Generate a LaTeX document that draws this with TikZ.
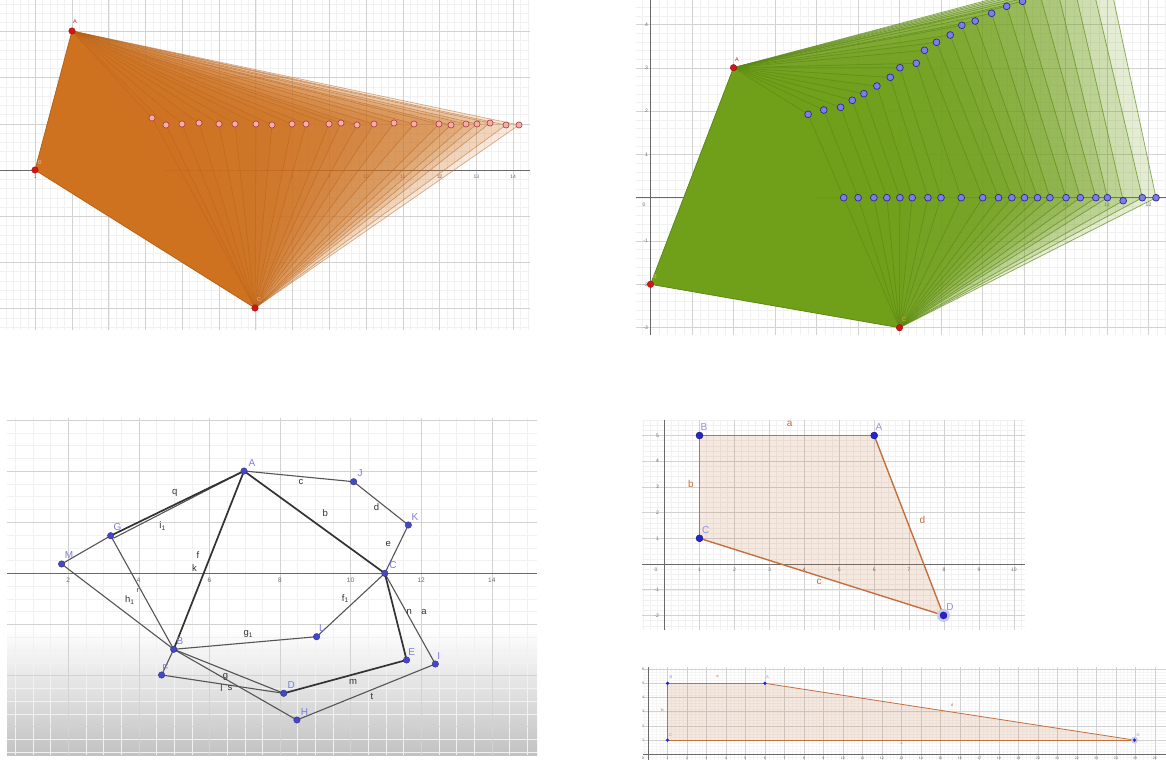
\documentclass[tikz,border=0pt]{standalone}
\usepackage{fontspec}
\setmainfont{Liberation Sans}
\definecolor{ggorange}{RGB}{206,114,32}
\definecolor{ggoline}{RGB}{185,98,22}
\definecolor{ggpinkf}{RGB}{242,175,170}
\definecolor{ggpinkd}{RGB}{170,55,55}
\definecolor{ggred}{RGB}{215,20,20}
\definecolor{gggreen}{RGB}{112,160,26}
\definecolor{gggline}{RGB}{92,138,18}
\definecolor{ggbluef}{RGB}{125,125,235}
\definecolor{ggblued}{RGB}{45,45,140}
\definecolor{ggpt}{RGB}{70,70,200}
\definecolor{gglab}{RGB}{125,125,225}
\definecolor{ggbrown}{RGB}{196,112,62}
\definecolor{ggdark}{RGB}{50,50,50}
\definecolor{ggseg}{RGB}{85,85,85}
\definecolor{gridmaj}{RGB}{210,210,210}
\definecolor{gridmin}{RGB}{241,241,241}
\definecolor{gridmin5}{RGB}{246,246,246}
\definecolor{axisgray}{RGB}{105,105,105}
\definecolor{ggblue4}{RGB}{35,35,210}
\begin{document}
\begin{tikzpicture}[x=1pt,y=-1pt,
  mingrid/.style={draw=gridmin, line width=0.35},
  majgrid/.style={draw=gridmaj, line width=0.6},
  axisline/.style={draw=axisgray, line width=0.8},
  tl/.style={text=axisgray, inner sep=0, font=\fontsize{5}{5}\selectfont},
  tls/.style={text=axisgray, inner sep=0, font=\fontsize{3.6}{3.6}\selectfont},
  tlm/.style={text=axisgray, inner sep=0, font=\fontsize{6.5}{6.5}\selectfont},
  pinkpt/.style={circle, fill=ggpinkf, draw=ggpinkd, line width=0.6, inner sep=0, minimum size=6.2},
  redpt/.style={circle, fill=ggred, draw=ggred!70!black, line width=0.4, inner sep=0, minimum size=6.5},
  bluept/.style={circle, fill=ggbluef, draw=ggblued, line width=0.7, inner sep=0, minimum size=6.8},
  pt3/.style={circle, fill=ggpt, draw=ggpt!70!black, line width=0.4, inner sep=0, minimum size=6.5},
  pt4/.style={circle, fill=ggblue4, draw=ggblue4!60!black, line width=0.4, inner sep=0, minimum size=7},
  pt5/.style={circle, fill=ggblue4, inner sep=0, minimum size=3.6},
  lab3/.style={text=gglab, inner sep=0, font=\fontsize{10}{10}\selectfont},
  elab3/.style={text=ggdark, inner sep=0, font=\fontsize{9.5}{9.5}\selectfont},
  lab4/.style={text=gglab!85, inner sep=0, font=\fontsize{10}{10}\selectfont},
  elab4/.style={text=ggbrown, inner sep=0, font=\fontsize{10}{10}\selectfont},
  lab5/.style={text=gglab!85, inner sep=0, font=\fontsize{4}{4}\selectfont},
  elab5/.style={text=ggbrown, inner sep=0, font=\fontsize{4}{4}\selectfont},
  seg/.style={draw=ggseg, line width=1.1},
  thickseg/.style={draw=ggdark, line width=1.7}
]
\useasboundingbox (0,0) rectangle (1166,760);
\fill[white] (0,0) rectangle (1166,760);

%% ================= PANEL 1 (orange) =================
\foreach \i in {-4,...,67} \draw[mingrid] ({35.2+7.352*\i},0) -- ({35.2+7.352*\i},330);
\foreach \j in {-18,...,17} \draw[mingrid] (0,{170+9.24*\j}) -- (530,{170+9.24*\j});
\foreach \i in {0,...,13} \draw[majgrid] ({35.2+36.76*\i},0) -- ({35.2+36.76*\i},330);
\foreach \j in {-3,...,3} \draw[majgrid] (0,{170+46.2*\j}) -- (530,{170+46.2*\j});
\draw[axisline] (0,170) -- (530,170);
\foreach \k in {1,...,14} \node[tl] (ox\k) at ({35.2+36.76*(\k-1)},177) {\k};

\coordinate (oA) at (72,31);
\coordinate (oB) at (35,170);
\coordinate (oC) at (255,308);
\fill[ggorange] (oA) -- (oB) -- (oC) -- cycle;
\foreach \px/\py [count=\n] in {152/118,166/125,182/124,199/123,219/124,235/124,256/124,272/125,292/124,306/124,329/124,341/123,357/125,374/124,394/123,414/124,439/124,451/125,466/124,477/124,490/123,506/125,519/125}{
  \coordinate (oP\n) at (\px,\py);
  \fill[ggorange, fill opacity=0.16] (oA) -- (oP\n) -- (oC) -- cycle;
}
\foreach \n in {1,...,23} \draw[ggoline, opacity=0.5, line width=0.7] (oA) -- (oP\n) -- (oC);
\draw[ggoline, line width=0.8] (oA) -- (oB) -- (oC);
\foreach \n in {1,...,23} \node[pinkpt] (dP\n) at (oP\n) {};
\node[redpt] (doA) at (oA) {};
\node[redpt] (doB) at (oB) {};
\node[redpt] (doC) at (oC) {};
\node[text=ggred, inner sep=0, font=\fontsize{5.5}{5.5}\selectfont] (loA) at (75,22) {A};
\node[text=ggpinkf, inner sep=0, font=\fontsize{5.5}{5.5}\selectfont] (loB) at (40,163) {B};
\node[text=ggpinkf, inner sep=0, font=\fontsize{5.5}{5.5}\selectfont] (loC) at (259,300) {C};

%% ================= PANEL 2 (green) =================
\foreach \i in {-1,...,62} \draw[mingrid] ({650.5+8.3*\i},0) -- ({650.5+8.3*\i},335);
\foreach \j in {-22,...,15} \draw[mingrid] (636,{197.7+8.66*\j}) -- (1166,{197.7+8.66*\j});
\foreach \i in {0,...,12} \draw[majgrid] ({650.5+41.5*\i},0) -- ({650.5+41.5*\i},335);
\foreach \j in {-4,...,3} \draw[majgrid] (636,{197.7+43.3*\j}) -- (1166,{197.7+43.3*\j});
\draw[axisline] (636,197.7) -- (1166,197.7);
\draw[axisline] (650.5,0) -- (650.5,335);
\node[tl] (gx0) at (644,205) {0};
\foreach \k in {1,...,12} \node[tl] (gx\k) at ({650.5+41.5*\k},205) {\k};
\foreach \k/\lb in {4/4,3/3,2/2,1/1,-1/-1,-2/-2,-3/-3} \node[tl, anchor=east] (gy\k) at (648,{197.7-43.3*\k}) {\lb};

\coordinate (gA) at (733.5,67.7);
\coordinate (gB) at (650.5,284.3);
\coordinate (gC) at (899.5,327.7);
\foreach \ux/\uy/\lx/\ly [count=\n] in {808.1/114.3/843.7/197.7,823.8/110/858.1/197.7,840.6/107.3/873.8/197.7,852.3/100.3/886.8/197.7,863.9/93.7/899.9/197.7,876.9/86/912.2/197.7,890.3/77.3/927.9/197.7,899.9/67.7/941/197.7,916.3/63.3/961.2/197.7,924.5/50.3/982.7/197.7,936.5/42.3/998.5/197.7,950.2/35/1011.8/197.7,961.8/25.3/1024.5/197.7,975.2/21/1037.5/197.7,991.6/13.3/1049.9/197.7,1006.7/6.3/1066/197.7,1022.5/1.3/1080.3/197.7,1040/-5.5/1095.8/197.7,1057/-12/1107.4/197.7,1073/-18.5/1123.2/200.7,1090/-25/1142.3/197.7,1107/-31.5/1156/197.7}{
  \coordinate (gU\n) at (\ux,\uy);
  \coordinate (gL\n) at (\lx,\ly);
}
\begin{scope}
\clip (636,0) rectangle (1166,335);
\fill[gggreen] (gA) -- (gB) -- (gC) -- cycle;
\foreach \n in {1,...,22} \fill[gggreen, fill opacity=0.19] (gA) -- (gU\n) -- (gL\n) -- (gC) -- cycle;
\foreach \n in {1,...,22} \draw[gggline, opacity=0.65, line width=0.8] (gA) -- (gU\n) -- (gL\n) -- (gC);
\draw[gggline, line width=0.8] (gA) -- (gB) -- (gC);
\end{scope}
\foreach \n in {1,...,17} \node[bluept] (dU\n) at (gU\n) {};
\foreach \n in {1,...,22} \node[bluept] (dL\n) at (gL\n) {};
\node[redpt] (dgA) at (gA) {};
\node[redpt] (dgB) at (gB) {};
\node[redpt] (dgC) at (gC) {};
\node[text=ggred, inner sep=0, font=\fontsize{5.5}{5.5}\selectfont] (lgA) at (737,60) {A};
\node[text=orange!70, inner sep=0, font=\fontsize{5.5}{5.5}\selectfont] (lgB) at (655,277) {B};
\node[text=orange!70, inner sep=0, font=\fontsize{5.5}{5.5}\selectfont] (lgC) at (904,320) {C};

%% ================= PANEL 3 (segments) =================
\shade[top color=white, bottom color=black!24] (7,628) rectangle (537,755);
\foreach \i in {-3,...,26} \draw[mingrid] ({68.2+17.65*\i},418) -- ({68.2+17.65*\i},755);
\foreach \j in {-12,...,14} \draw[mingrid] (7,{573.3+12.78*\j}) -- (537,{573.3+12.78*\j});
\foreach \i in {1,...,7} \draw[majgrid] ({-2.4+70.6*\i},418) -- ({-2.4+70.6*\i},755);
\foreach \j in {-3,...,3} \draw[majgrid] (7,{573.3+51.1*\j}) -- (537,{573.3+51.1*\j});
\draw[axisline] (7,573.3) -- (537,573.3);
\foreach \k in {1,...,7} \node[tlm] (cx\k) at ({-2.4+70.6*\k},580) {\the\numexpr 2*\k\relax};

\foreach \nm/\x/\y in {A/244/471,J/353.6/481.7,K/408.3/525,C/384.8/573.3,M/61.6/564,G/110.7/535.7,B/173.7/649.3,F/161.6/675,D/283.7/693.3,H/296.9/720,E/406.6/660,I/435.3/664,L/316.6/636.7}
  \coordinate (\nm3) at (\x,\y);
\coordinate (G3b) at (113.5,538.2);

\draw[seg] (A3) -- (J3) -- (K3) -- (C3);
\draw[seg] (M3) -- (G3) -- (B3);
\draw[seg] (M3) -- (B3);
\draw[seg] (A3) -- (G3b);
\draw[seg] (B3) -- (F3) -- (D3);
\draw[seg] (B3) -- (D3);
\draw[seg] (B3) -- (H3) -- (I3) -- (C3);
\draw[seg] (B3) -- (L3) -- (C3);
\draw[thickseg] (A3) -- (G3);
\draw[thickseg] (A3) -- (B3);
\draw[thickseg] (A3) -- (C3);
\draw[thickseg] (D3) -- (E3) -- (C3);

\foreach \nm in {A,J,K,C,M,G,B,F,D,H,E,I,L} \node[pt3] (d\nm3) at (\nm3) {};

\node[lab3] (lA3) at (252,463) {A};
\node[lab3] (lJ3) at (360,473) {J};
\node[lab3] (lK3) at (415,517) {K};
\node[lab3] (lC3) at (393,565) {C};
\node[lab3] (lM3) at (69,555) {M};
\node[lab3] (lG3) at (117.6,527) {G};
\node[lab3] (lB3) at (180,641) {B};
\node[lab3] (lF3) at (165.4,667.7) {F};
\node[lab3] (lD3) at (291.3,685) {D};
\node[lab3] (lH3) at (304.5,711.7) {H};
\node[lab3] (lE3) at (411.8,651.7) {E};
\node[lab3] (lI3) at (438.8,656) {I};
\node[lab3] (lL3) at (321.8,628.3) {L};

\node[elab3] (ec) at (301,482) {c};
\node[elab3] (ed) at (376.5,506.7) {d};
\node[elab3] (ee) at (388.2,544.3) {e};
\node[elab3] (eb) at (325.3,513.3) {b};
\node[elab3] (eq) at (174.7,493.3) {q};
\node[elab3] (ei) at (162.6,526) {i\textsubscript{1}};
\node[elab3] (ef) at (197.9,555) {f};
\node[elab3] (ek) at (194.5,568.3) {k};
\node[elab3] (eh) at (129.8,600) {h\textsubscript{1}};
\node[elab3] (er) at (137.7,590.5) {\fontsize{7}{7}\selectfont r};
\node[elab3] (eg1) at (248.4,634) {g\textsubscript{1}};
\node[elab3] (ef1) at (345.3,598.3) {f\textsubscript{1}};
\node[elab3] (eg) at (225.6,676.7) {g};
\node[elab3] (el) at (221.5,688.3) {l};
\node[elab3] (es) at (230.1,688.3) {s};
\node[elab3] (em) at (353,681.7) {m};
\node[elab3] (en) at (409.3,611.7) {n};
\node[elab3] (ea) at (423.9,612.3) {a};
\node[elab3] (et) at (372,696.7) {t};

%% ================= PANEL 4 (quadrilateral) =================
\foreach \i in {-3,...,51} \draw[mingrid] ({664.6+6.986*\i},420) -- ({664.6+6.986*\i},630);
\foreach \j in {-28,...,12} \draw[mingrid] (642,{564+5.14*\j}) -- (1025,{564+5.14*\j});
\foreach \i in {1,...,10} \draw[majgrid] ({664.6+34.93*\i},420) -- ({664.6+34.93*\i},630);
\foreach \j in {-5,...,2} \draw[majgrid] (642,{564+25.7*\j}) -- (1025,{564+25.7*\j});
\draw[axisline] (642,564) -- (1025,564);
\draw[axisline] (664.6,420) -- (664.6,630);
\node[tl] (qx0) at (656,569.5) {0};
\foreach \k in {1,...,10} \node[tl] (qx\k) at ({664.6+34.93*\k},569.5) {\k};
\foreach \k/\lb in {5/5,4/4,3/3,2/2,1/1,-1/-1,-2/-2} \node[tl, anchor=east] (qy\k) at (659,{564-25.7*\k}) {\lb};

\coordinate (B4) at (699.5,435.5);
\coordinate (A4) at (874.2,435.5);
\coordinate (C4) at (699.5,538.3);
\coordinate (D4) at (943.5,615.4);
\fill[ggbrown, fill opacity=0.16] (B4) -- (A4) -- (D4) -- (C4) -- cycle;
\draw[ggbrown, line width=1.4] (B4) -- (A4);
\draw[ggbrown, line width=1.4] (A4) -- (D4);
\draw[ggbrown, line width=1.4] (D4) -- (C4);
\draw[ggbrown, line width=1.4] (C4) -- (B4);
\fill[ggblue4!25] (D4) circle (6.5);
\foreach \nm in {A,B,C,D} \node[pt4] (d\nm4) at (\nm4) {};
\node[lab4] (lB4) at (704,427) {B};
\node[lab4] (lA4) at (879,427) {A};
\node[lab4] (lC4) at (705.6,530) {C};
\node[lab4] (lD4) at (950,607) {D};
\node[elab4] (ea4) at (789.7,424) {a};
\node[elab4] (eb4) at (690.8,483.7) {b};
\node[elab4] (ec4) at (819,582) {c};
\node[elab4] (ed4) at (922.4,520) {d};

%% ================= PANEL 5 (long strip) =================
\foreach \i in {-1,...,130} \draw[draw=gridmin5, line width=0.25] ({648+3.898*\i},667) -- ({648+3.898*\i},760);
\foreach \j in {-1,...,30} \draw[draw=gridmin5, line width=0.25] (643,{754.3-2.84*\j}) -- (1166,{754.3-2.84*\j});
\foreach \i in {1,...,26} \draw[majgrid, line width=0.45] ({648+19.49*\i},667) -- ({648+19.49*\i},760);
\foreach \j in {1,...,6} \draw[majgrid, line width=0.45] (643,{754.3-14.2*\j}) -- (1166,{754.3-14.2*\j});
\draw[axisline, line width=0.6] (643,754.3) -- (1166,754.3);
\draw[axisline, line width=0.6] (648,667) -- (648,760);
\node[tls] (sx0) at (643,758.3) {0};
\foreach \k in {1,...,26} \node[tls] (sx\k) at ({648+19.49*\k},758.3) {\k};
\foreach \k in {1,...,6} \node[tls] (sy\k) at (643,{754.3-14.2*\k}) {\k};

\coordinate (B5) at (667.5,683.3);
\coordinate (A5) at (764.9,683.3);
\coordinate (C5) at (667.5,740.1);
\coordinate (D5) at (1134.5,740.1);
\fill[ggbrown, fill opacity=0.16] (B5) -- (A5) -- (D5) -- (C5) -- cycle;
\draw[ggbrown, line width=0.8] (B5) -- (A5);
\draw[ggbrown, line width=0.8] (A5) -- (D5);
\draw[ggbrown, line width=0.8] (D5) -- (C5);
\draw[ggbrown, line width=0.8] (C5) -- (B5);
\fill[ggblue4!25] (D5) circle (3.5);
\foreach \nm in {A,B,C,D} \node[pt5] (d\nm5) at (\nm5) {};
\node[lab5] (lB5) at (671,677) {B};
\node[lab5] (lA5) at (767.5,677) {A};
\node[lab5] (lC5) at (670.5,735) {C};
\node[lab5] (lD5) at (1138,735) {D};
\node[elab5] (ea5) at (717.6,676) {a};
\node[elab5] (eb5) at (662.6,710) {b};
\node[elab5] (ec5) at (901.5,743) {c};
\node[elab5] (ed5) at (952,705) {d};
\end{tikzpicture}
\end{document}
